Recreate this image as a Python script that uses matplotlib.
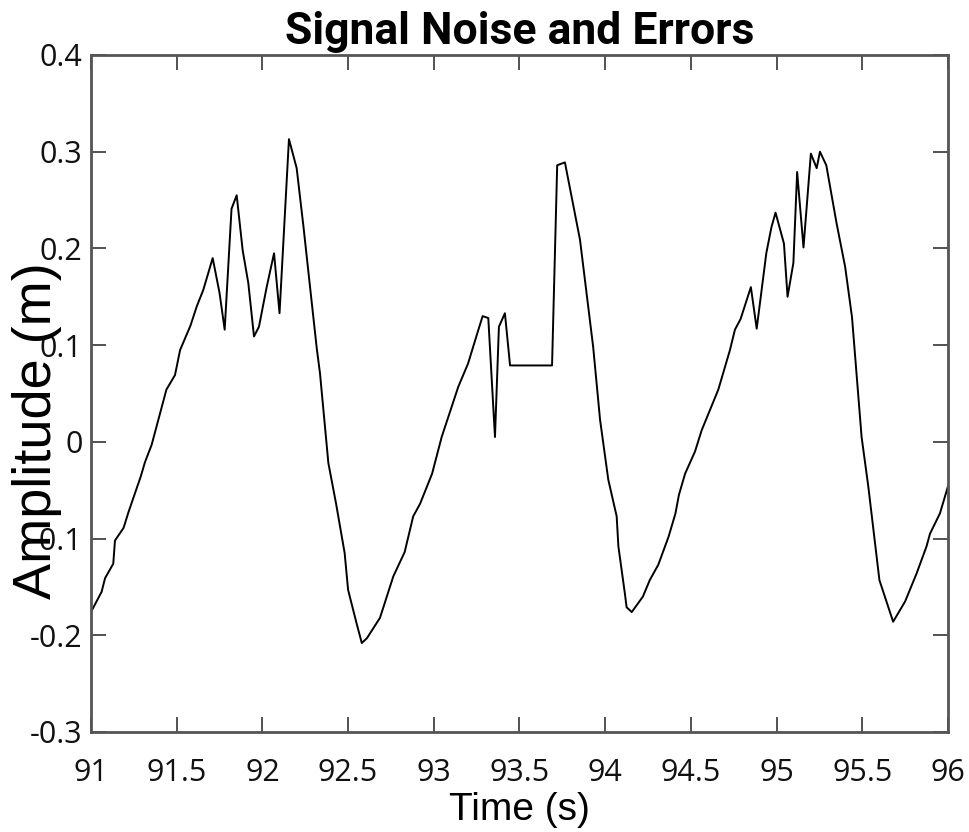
import matplotlib.pyplot as plt
import matplotlib.ticker as ticker

# signal samples
time_s = [91.0, 91.062, 91.082, 91.13, 91.14, 91.19, 91.22, 91.29, 91.315, 91.354,
          91.44, 91.49, 91.52, 91.58, 91.617, 91.655, 91.71, 91.75, 91.78, 91.82,
          91.85, 91.885, 91.918, 91.951, 91.98, 92.025, 92.068, 92.10, 92.155, 92.20,
          92.24, 92.28, 92.317, 92.336, 92.385, 92.43, 92.48, 92.50, 92.55, 92.58,
          92.61, 92.686, 92.764, 92.83, 92.88, 92.92, 92.99, 93.046, 93.143, 93.20,
          93.25, 93.285, 93.318, 93.357, 93.38, 93.415, 93.445, 93.69, 93.72, 93.765,
          93.853, 93.93, 93.97, 94.018, 94.067, 94.077, 94.115, 94.125, 94.155, 94.22,
          94.26, 94.31, 94.37, 94.41, 94.43, 94.466, 94.524, 94.563, 94.66, 94.728,
          94.757, 94.79, 94.85, 94.884, 94.94, 94.97, 94.994, 95.043, 95.064, 95.098,
          95.12, 95.157, 95.20, 95.234, 95.253, 95.29, 95.35, 95.40, 95.44, 95.496,
          95.535, 95.60, 95.68, 95.75, 95.817, 95.875, 95.895, 95.953, 96.0]
amplitude_m = [-0.176, -0.155, -0.141, -0.126, -0.102, -0.089, -0.072, -0.036, -0.021, -0.003,
               0.054, 0.069, 0.095, 0.120, 0.140, 0.157, 0.190, 0.154, 0.116, 0.241,
               0.255, 0.198, 0.164, 0.109, 0.119, 0.160, 0.195, 0.133, 0.313, 0.283,
               0.222, 0.157, 0.097, 0.071, -0.022, -0.064, -0.115, -0.153, -0.188, -0.208,
               -0.203, -0.182, -0.139, -0.114, -0.077, -0.064, -0.033, 0.005, 0.057, 0.081,
               0.110, 0.130, 0.128, 0.005, 0.119, 0.133, 0.079, 0.079, 0.286, 0.289,
               0.209, 0.098, 0.023, -0.039, -0.077, -0.108, -0.157, -0.171, -0.176, -0.160,
               -0.143, -0.127, -0.098, -0.074, -0.055, -0.033, -0.010, 0.012, 0.054, 0.095,
               0.116, 0.127, 0.160, 0.117, 0.195, 0.222, 0.237, 0.205, 0.150, 0.185,
               0.279, 0.201, 0.298, 0.283, 0.300, 0.286, 0.226, 0.181, 0.129, 0.005,
               -0.046, -0.143, -0.186, -0.165, -0.136, -0.108, -0.095, -0.074, -0.046]

x_ticks = [91, 91.5, 92, 92.5, 93, 93.5, 94, 94.5, 95, 95.5, 96]
y_ticks = [-0.3, -0.2, -0.1, 0, 0.1, 0.2, 0.3, 0.4]

#----------------------------------------------------------------------------------------------------
#  plot
#----------------------------------------------------------------------------------------------------
fig = plt.figure(figsize=(9.7, 8.32), dpi=100)
ax = fig.add_axes([0.0938, 0.1202, 0.8835, 0.8137])

ax.plot(time_s, amplitude_m, color='black', linewidth=1.4)

ax.set_xlim(91, 96)
ax.set_ylim(-0.3, 0.4)
ax.xaxis.set_major_locator(ticker.FixedLocator(x_ticks))
ax.yaxis.set_major_locator(ticker.FixedLocator(y_ticks))
ax.xaxis.set_major_formatter(ticker.FuncFormatter(lambda v, p: '%g' % v))
ax.yaxis.set_major_formatter(ticker.FuncFormatter(lambda v, p: '%g' % v))

# ticks inside, on every side
ax.tick_params(direction='in', length=11, width=1.3, color='#444444',
               top=True, right=True)
ax.tick_params(axis='x', pad=19)
ax.tick_params(axis='y', pad=6)
for lab in ax.get_xticklabels() + ax.get_yticklabels():
    lab.set_fontfamily(['Open Sans', 'DejaVu Sans'])
    lab.set_fontsize(22)
    lab.set_color('#111111')

for sp in ax.spines.values():
    sp.set_color('#555555')
    sp.set_linewidth(2)

# axes' labels
ax.set_xlabel('Time (s)', family=['Liberation Sans', 'DejaVu Sans'], fontsize=28)
ax.xaxis.set_label_coords(0.5, -0.088)
ax.set_ylabel('Amplitude (m)', family=['Liberation Sans', 'DejaVu Sans'], fontsize=39)
ax.yaxis.set_label_coords(-0.034, 0.445)

ax.set_title('Signal Noise and Errors', family=['Roboto', 'DejaVu Sans'],
             fontweight='bold', fontsize=32, pad=8)

plt.savefig('out.png')
